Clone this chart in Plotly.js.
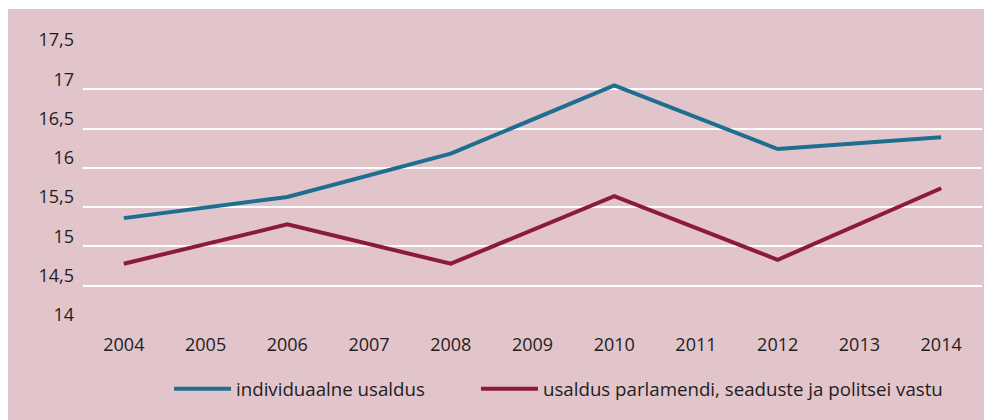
<!DOCTYPE html>
<html>
<head>
<meta charset="utf-8">
<script src="https://cdn.plot.ly/plotly-3.0.1.min.js"></script>
<style>
  html, body { margin: 0; padding: 0; background: #ffffff; }
  #chart { position: absolute; left: 8px; top: 9px; width: 976px; height: 411px; }
</style>
</head>
<body>
<div id="chart"></div>
<script>
// Data
var years = [2004, 2006, 2008, 2010, 2012, 2014];
var tickYears = [2004, 2005, 2006, 2007, 2008, 2009, 2010, 2011, 2012, 2013, 2014];
var tickLabels = ['2004', '2005', '2006', '2007', '2008', '2009', '2010', '2011', '2012', '2013', '2014'];
var individualTrust = [15.36, 15.63, 16.18, 17.05, 16.24, 16.39];
var institutionalTrust = [14.78, 15.28, 14.78, 15.64, 14.83, 15.74];
var seriesNames = ['individuaalne usaldus', 'usaldus parlamendi, seaduste ja politsei vastu'];

var pink = '#e2c4cb';
var textColor = '#1e1e1e';

var traces = [
  { x: years, y: individualTrust, name: seriesNames[0], type: 'scatter', mode: 'lines',
    line: { color: '#1e6f8f', width: 4 }, legend: 'legend' },
  { x: years, y: institutionalTrust, name: seriesNames[1], type: 'scatter', mode: 'lines',
    line: { color: '#8b1a3b', width: 4 }, legend: 'legend2' }
];

var legendStyle = function (xPos) {
  return {
    orientation: 'h', xref: 'container', yref: 'container',
    x: xPos, xanchor: 'left', y: 0.075, yanchor: 'middle',
    bgcolor: 'rgba(0,0,0,0)',
    font: { family: '"Open Sans", sans-serif', size: 18.7, color: textColor },
    itemwidth: 57
  };
};

var layout = {
  width: 976, height: 411,
  paper_bgcolor: pink, plot_bgcolor: pink,
  separators: ', ',
  margin: { l: 75, r: 2, t: 41, b: 95, pad: 0 },
  font: { family: '"Open Sans", "Noto Sans", sans-serif', size: 18, color: textColor },
  showlegend: true,
  legend: legendStyle(0.165),
  legend2: legendStyle(0.4795),
  xaxis: {
    range: [2003.5, 2014.5], tickmode: 'array', tickvals: tickYears, ticktext: tickLabels,
    showgrid: false, zeroline: false, showline: false, ticks: '', fixedrange: true,
    ticklabelstandoff: 7
  },
  yaxis: {
    range: [14, 17.5], tickmode: 'linear', tick0: 14, dtick: 0.5,
    showgrid: true, gridcolor: '#ffffff', gridwidth: 2,
    zeroline: false, showline: false, ticks: '', fixedrange: true,
    ticklabelstandoff: 8, ticklabelshift: -10
  }
};

Plotly.newPlot('chart', traces, layout, { displayModeBar: false, staticPlot: true });
</script>
</body>
</html>
